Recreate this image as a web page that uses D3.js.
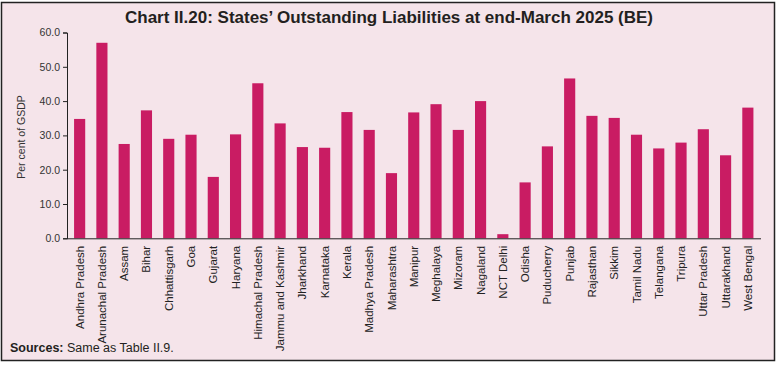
<!DOCTYPE html>
<html>
<head>
<meta charset="utf-8">
<script src="https://d3js.org/d3.v7.min.js"></script>
<style>
  body { margin: 0; background: #fff; font-family: "Liberation Sans", Arial, sans-serif; }
</style>
</head>
<body>
<div id="my_dataviz"></div>
<script>

// data
var states = ["Andhra Pradesh", "Arunachal Pradesh", "Assam", "Bihar", "Chhattisgarh", "Goa",
  "Gujarat", "Haryana", "Himachal Pradesh", "Jammu and Kashmir", "Jharkhand", "Karnataka",
  "Kerala", "Madhya Pradesh", "Maharashtra", "Manipur", "Meghalaya", "Mizoram", "Nagaland",
  "NCT Delhi", "Odisha", "Puducherry", "Punjab", "Rajasthan", "Sikkim", "Tamil Nadu",
  "Telangana", "Tripura", "Uttar Pradesh", "Uttarakhand", "West Bengal"];
var liabilities = [34.8, 57.0, 27.5, 37.3, 29.0, 30.2,
  17.9, 30.3, 45.2, 33.5, 26.6, 26.4,
  36.8, 31.6, 19.0, 36.7, 39.1, 31.6, 40.0,
  1.2, 16.3, 26.8, 46.6, 35.7, 35.1, 30.2,
  26.2, 27.9, 31.8, 24.2, 38.1];
var yTicks = [0, 10, 20, 30, 40, 50, 60];

var W = 779, H = 366;
var margin = {top: 32.5, right: 19, bottom: 127.7, left: 67};
var width = W - margin.left - margin.right,
    height = H - margin.top - margin.bottom;

var svg = d3.select("#my_dataviz")
  .append("svg")
  .attr("width", W)
  .attr("height", H);

// panel background + frame
svg.append("rect")
  .attr("x", 1.5).attr("y", 2.5)
  .attr("width", 773).attr("height", 358)
  .style("fill", "#f5e4ea")
  .style("stroke", "#222")
  .style("stroke-width", 1.5);

// title
svg.append("text")
  .attr("x", 389)
  .attr("y", 23)
  .attr("text-anchor", "middle")
  .style("font-size", "17px")
  .style("font-weight", "bold")
  .style("fill", "#231f20")
  .text("Chart II.20: States\u2019 Outstanding Liabilities at end-March 2025 (BE)");

var g = svg.append("g")
  .attr("transform", "translate(" + margin.left + "," + margin.top + ")");

// band scale, slightly inset so bars sit like the original
var x = d3.scaleBand()
  .range([1.5, width - 1])
  .domain(states)
  .paddingInner(0.5)
  .paddingOuter(0.25);

var y = d3.scaleLinear()
  .range([height, 0])
  .domain([0, 60]);

// bars
g.selectAll(".bar")
  .data(states)
  .enter()
  .append("rect")
  .attr("class", "bar")
  .attr("x", function(d) { return x(d) })
  .attr("y", function(d, i) { return y(liabilities[i]) })
  .attr("width", x.bandwidth())
  .attr("height", function(d, i) { return height - y(liabilities[i]) })
  .style("fill", "#c91c63");

// y axis
var yAxis = g.append("g")
  .call(d3.axisLeft(y).tickValues(yTicks).tickSize(4).tickFormat(d3.format(".1f")));
yAxis.selectAll("text")
  .style("font-size", "10.5px")
  .style("font-family", "Liberation Sans, Arial, sans-serif")
  .style("fill", "#333");
yAxis.selectAll("line, path").style("stroke", "#222");

// x axis
var xAxis = g.append("g")
  .attr("transform", "translate(0," + height + ")")
  .call(d3.axisBottom(x).tickSize(0).tickPadding(0));
xAxis.select(".domain").attr("d", "M0,0.5H" + (width + 1)).style("stroke", "#222");
xAxis.selectAll("text")
  .attr("transform", "rotate(-90)")
  .attr("x", -7.5)
  .attr("y", 0)
  .attr("dy", "0.35em")
  .style("text-anchor", "end")
  .style("font-size", "11.5px")
  .style("font-family", "Liberation Sans, Arial, sans-serif")
  .style("fill", "#222");

// y axis label
svg.append("text")
  .attr("transform", "rotate(-90)")
  .attr("x", -137)
  .attr("y", 25)
  .style("text-anchor", "middle")
  .style("font-size", "10.5px")
  .style("fill", "#333")
  .text("Per cent of GSDP");

// sources note
var note = svg.append("text")
  .attr("x", 10)
  .attr("y", 352)
  .style("font-size", "12.5px")
  .style("fill", "#231f20");
note.append("tspan").style("font-weight", "bold").text("Sources:");
note.append("tspan").text(" Same as Table II.9.");

</script>
</body>
</html>
